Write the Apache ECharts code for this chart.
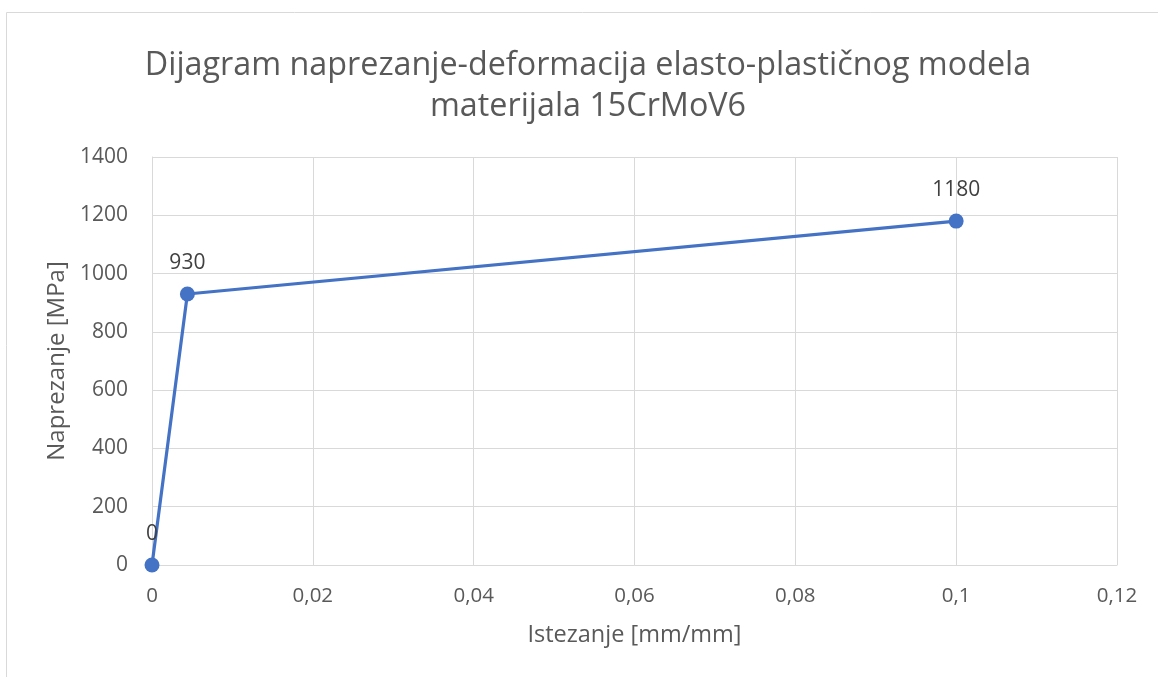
<!DOCTYPE html>
<html><head><meta charset="utf-8">
<script src="https://cdn.jsdelivr.net/npm/echarts@6/dist/echarts.min.js"></script>
<style>html,body{margin:0;padding:0;background:#fff}#c{width:1158px;height:677px}</style>
</head><body><div id="c"></div>
<script>
const strainValues = [0, 0.0044, 0.1];
const stressValues = [0, 930, 1180];
const titleLines = ['Dijagram naprezanje-deformacija elasto-plastičnog modela', 'materijala 15CrMoV6'];
const xAxisName = 'Istezanje [mm/mm]';
const yAxisName = 'Naprezanje [MPa]';

const font = "'Open Sans', 'Liberation Sans', sans-serif";
const chart = echarts.init(document.getElementById('c'));
chart.setOption({
  animation: false,
  graphic: [{type:'rect', shape:{x:6.5,y:12.5,width:1200,height:700}, style:{fill:'none', stroke:'#d9d9d9', lineWidth:1}, silent:true}],
  title: {text: titleLines.join('\n'), left: 583, top: 40, textAlign:'center',
    textStyle:{fontFamily:font, fontSize:32.3, fontWeight:'normal', color:'#595959', lineHeight:41}},
  grid: {left:152, right:41, top:157, bottom:112},
  xAxis: {type:'value', min:0, max:0.12, interval:0.02,
    name:xAxisName, nameLocation:'middle', nameGap:58,
    nameTextStyle:{fontFamily:font, fontSize:23.5, color:'#595959'},
    axisLine:{show:true, lineStyle:{color:'#d9d9d9'}}, axisTick:{show:false},
    axisLabel:{fontFamily:font, fontSize:20.5, color:'#595959', margin:21, formatter:v=>String(+v.toFixed(2)).replace('.',',')},
    splitLine:{show:true, lineStyle:{color:'#d9d9d9'}}},
  yAxis: {type:'value', min:0, max:1400, interval:200,
    name:yAxisName, nameLocation:'middle', nameGap:83,
    nameTextStyle:{fontFamily:font, fontSize:24, color:'#595959'},
    axisLine:{show:true, lineStyle:{color:'#d9d9d9'}}, axisTick:{show:false},
    axisLabel:{fontFamily:font, fontSize:21, color:'#595959', margin:24, formatter:v=>String(v)},
    splitLine:{show:true, lineStyle:{color:'#d9d9d9'}}},
  series: [{type:'line', data: strainValues.map((x,i)=>[x, stressValues[i]]),
    symbol:'circle', symbolSize:15,
    lineStyle:{color:'#4472C4', width:3.2}, itemStyle:{color:'#4472C4'},
    label:{show:true, position:'top', distance:13, fontFamily:font, fontSize:21, color:'#404040',
      formatter:p=>String(p.value[1])}}]
});
</script></body></html>
